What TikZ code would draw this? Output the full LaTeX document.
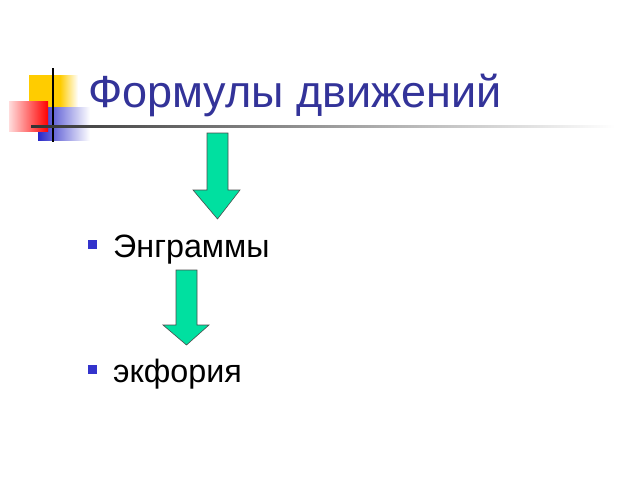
\documentclass[tikz,border=0pt]{standalone}
\usepackage{fontspec}
\setmainfont{Liberation Sans}
\definecolor{yel}{RGB}{255,204,0}
\begin{document}
\begin{tikzpicture}[x=1pt,y=-1pt,
 arr/.style={draw=black!70,fill={rgb,255:red,0;green,224;blue,160},line width=0.6pt},
 bul/.style={fill={rgb,255:red,51;green,51;blue,204},minimum size=9pt,inner sep=0pt},
 txt/.style={anchor=base west,font=\fontsize{32.3}{38}\selectfont,inner sep=0pt}]
\useasboundingbox (0,0) rectangle (640,480);
\fill[yel] (29,75) rectangle (60,125);
\shade[left color=yel,right color=white] (60,75) rectangle (78,110);
\shade[left color={rgb,255:red,40;green,40;blue,200},right color=white] (38,107) rectangle (90,140);
\shade[left color={rgb,255:red,255;green,220;blue,220},right color=red] (9,101) rectangle (48,131);
\draw[line width=1.2pt] (53,68) -- (53,142);
\shade[left color=black!80,right color=white] (31,125) rectangle (615,127.5);
\node[anchor=base west,inner sep=0pt,text={rgb,255:red,51;green,51;blue,153},font=\fontsize{45}{52}\selectfont] (title) at (88,107) {Формулы движений};
\node[bul] (b1) at (92.5,244.5) {};
\node[txt] (t1) at (113,257) {Энграммы};
\node[bul] (b2) at (92.5,369.5) {};
\node[txt] (t2) at (113,382) {экфория};
\draw[arr] (207,133) -- (228,133) -- (228,190) -- (240,190) -- (217.5,219) -- (193,190) -- (207,190) -- cycle;
\draw[arr] (176,270) -- (197,270) -- (197,325) -- (209,325) -- (186.5,345) -- (163,325) -- (176,325) -- cycle;
\end{tikzpicture}
\end{document}
